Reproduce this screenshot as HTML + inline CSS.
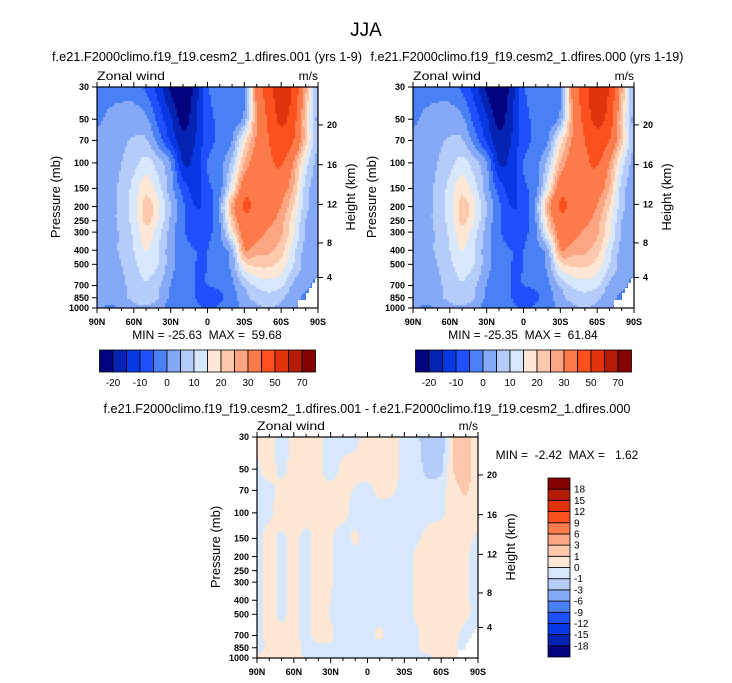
<!DOCTYPE html>
<html><head><meta charset="utf-8"><style>
body{margin:0;background:#fff;}
svg{display:block;font-family:"Liberation Sans",sans-serif;}
text{white-space:pre;}
.tk{font-size:9px;font-weight:bold;}
</style></head><body>
<svg id="fig" width="732" height="683" viewBox="0 0 732 683" xmlns="http://www.w3.org/2000/svg">
<rect width="732" height="683" fill="#fff"/>
<text x="366" y="36" font-size="19" text-anchor="middle">JJA</text>
<text x="207" y="61" font-size="13" text-anchor="middle" textLength="310" lengthAdjust="spacingAndGlyphs">f.e21.F2000climo.f19_f19.cesm2_1.dfires.001 (yrs 1-9)</text>
<text x="527" y="61" font-size="13" text-anchor="middle" textLength="313" lengthAdjust="spacingAndGlyphs">f.e21.F2000climo.f19_f19.cesm2_1.dfires.000 (yrs 1-19)</text>
<text x="367" y="413" font-size="13" text-anchor="middle" textLength="527" lengthAdjust="spacingAndGlyphs">f.e21.F2000climo.f19_f19.cesm2_1.dfires.001 - f.e21.F2000climo.f19_f19.cesm2_1.dfires.000</text>
<text x="207" y="339" font-size="12" text-anchor="middle">MIN = -25.63  MAX =  59.68</text>
<text x="523" y="339" font-size="12" text-anchor="middle">MIN = -25.35  MAX =  61.84</text>
<text x="567" y="459" font-size="12" text-anchor="middle">MIN =  -2.42  MAX =   1.62</text>
<g id="layer"></g>
</svg>
<script>
const lats=[90,80,70,60,50,40,30,20,10,0,-10,-20,-30,-40,-50,-60,-70,-80,-90];
const plevs=[30,50,70,100,150,200,250,300,400,500,700,850,1000];
const topLevels=[-20,-15,-10,-5,0,5,10,15,20,25,30,40,50,60,70];
const topLabels=["-20","-10","0","10","20","30","50","70"];
const diffLevels=[-18,-15,-12,-9,-6,-3,-1,0,1,3,6,9,12,15,18];
const xTickLabels=["90N","60N","30N","0","30S","60S","90S"];
const heightTicks=[4,8,12,16,20];
const colors=["#02037f","#0523b2","#0738e4","#1e50fd","#4a80f5","#85a9f7","#b5ccfa","#d7e8fd","#fee7d4","#fdc8ac","#fca583","#fd7a4b","#fd501f","#e1340c","#b51c05","#850000"];

const ctl1=[
[-3,-2,-1.5,-2,-6,-12,-21,-25,-18,-6,-3,-2,-0.5,32,45,57,48,26,4],
[-1,1,2,2.5,1,-7,-14,-22,-16,-7,-4,-2,2,30,42,52,44,22,3],
[1.5,2.5,4,5.5,5.5,-2,-11,-18,-15,-7,-4,0,17,31,40,46,40,22,4],
[2,3,5,8,12,7,0,-15,-13,-5,-2,7,25,35,38,41,30,13,3],
[2,4,6,12,18,12,2,-7,-12,-6,-2,15,36,37,36,34,25,8,2],
[2,3,7,12,22,16,5,-4,-10,-8,2,27,41,37,35,30,20,7,2],
[2,3,7,12,21,15,4,-4,-8,-7,0,22,37,36,32,27,17,5,1],
[2,3,6,11,18,12,3,-4,-7,-6,-1,17,34,33,29,26,16,5,1],
[2,3,6,10,15,10,2,-3,-5,-5,-2,4,29,27,26,22,12,3,1],
[2,3,5,9,12,10,2,-3,-5,-5,-3,2,18,21,21,18,10,3,1],
[2,3,4,7,9.5,6,0,-3,-5,-5,-4,-1,6,11,13,11,4,1,-1],
[2,3,4,6,7,5,-1,-4,-5,-7,-6,-2,3,7,8,6,2,-1,-2],
[1,-1,0.5,4,4.5,3,-3,-5,-4,-6,-4,-2,1,4,5,4,1,-2,-2]];
const ctl2=[
[-3,-2,-1.5,-2,-6,-12,-21,-25,-18,-6,-3,-2,-0.5,32,46,59,49,26,4],
[-1,1,2,2.5,1,-7,-14,-22,-16,-7,-4,-2,2,30,43,53,45,22,3],
[1.5,2.5,4,5.5,5.5,-2,-11,-18,-15,-7,-4,0,17,31,40,46,40,22,4],
[2,3,5,8,12,7,0,-15,-13,-5,-2,7,25,35,38,41,30,13,3],
[2,4,6,12,18,12,2,-7,-12,-6,-2,15,36,37,36,34,25,8,2],
[2,3,7,12,22,16,5,-4,-10,-8,2,27,41,37,35,30,20,7,2],
[2,3,7,12,21,15,4,-4,-8,-7,0,22,37,36,32,27,17,5,1],
[2,3,6,11,18,12,3,-4,-7,-6,-1,17,34,33,29,26,16,5,1],
[2,3,6,10,15,10,2,-3,-5,-5,-2,4,29,27,26,22,12,3,1],
[2,3,5,9,12,10,2,-3,-5,-5,-3,2,18,21,21,18,10,3,1],
[2,3,4,7,9.5,6,0,-3,-5,-5,-4,-1,6,11,13,11,4,1,-1],
[2,3,4,6,7,5,-1,-4,-5,-7,-6,-2,3,7,8,6,2,-1,-2],
[1,-1,0.5,4,4.5,3,-3,-5,-4,-6,-4,-2,1,4,5,4,1,-2,-2]];
const diffVals=[
[0.2,0.3,-0.3,0.3,0.3,0.2,-0.3,-0.4,-0.2,0.3,0.4,0.3,-0.3,-0.8,-1.6,-1.6,1.1,1.6,0.3],
[-0.1,0.3,-0.2,0.3,0.3,0.2,-0.3,0.2,0.3,0.3,0.4,0.3,-0.2,-0.6,-1.3,-1.2,1.0,1.5,0.3],
[-0.2,-0.2,0.3,0.3,0.3,0.3,0.2,0.3,-0.1,-0.2,0.2,0.1,-0.3,-0.4,-0.6,-0.3,0.6,1.1,0.3],
[-0.2,-0.1,0.3,0.2,0.3,0.3,0.2,0.2,-0.3,-0.4,-0.3,-0.3,-0.3,-0.3,-0.2,-0.1,0.3,0.5,0.3],
[-0.2,0.2,-0.1,0.2,-0.2,0.3,0.1,-0.3,0.1,-0.3,-0.3,-0.3,-0.3,-0.1,0.2,0.3,0.3,0.2,-0.1],
[-0.2,0.2,-0.1,0.2,-0.2,0.3,0.05,-0.3,-0.3,-0.3,-0.3,-0.3,-0.3,0.1,0.3,0.3,0.3,0.1,-0.2],
[-0.2,0.2,-0.1,0.2,-0.2,0.3,0.05,-0.3,-0.3,-0.3,-0.3,-0.3,-0.3,0.1,0.3,0.3,0.3,0.1,-0.2],
[-0.2,0.2,-0.1,0.2,-0.2,0.3,0.05,-0.3,-0.3,-0.3,-0.3,-0.3,-0.3,0.1,0.3,0.3,0.3,0.1,-0.2],
[-0.2,0.2,-0.1,0.2,-0.2,0.3,0.0,-0.3,-0.3,-0.3,-0.3,-0.3,-0.3,0.1,0.3,0.3,0.3,0.1,-0.2],
[-0.2,0.2,-0.1,0.2,-0.2,0.3,-0.05,-0.3,-0.3,-0.3,-0.3,-0.3,-0.3,0.1,0.3,0.3,0.3,0.1,-0.2],
[-0.2,0.2,0.2,0.2,-0.2,0.3,0.1,-0.3,-0.3,-0.2,0.1,-0.3,-0.3,-0.1,0.3,0.3,0.2,-0.2,-0.2],
[-0.3,0.2,0.3,0.3,-0.2,-0.2,-0.1,-0.3,-0.3,-0.2,-0.3,-0.3,-0.3,-0.05,0.3,0.3,0.1,-0.2,-0.2],
[0.2,0.3,0.3,0.3,-0.1,-0.1,-0.2,-0.2,-0.3,-0.3,-0.2,-0.3,-0.3,-0.3,-0.1,0.3,0.3,0.1,-0.2]];

const NS="http://www.w3.org/2000/svg";
const layer=document.getElementById('layer');
const PW=221,PH=221,LP0=Math.log(30),LPR=Math.log(1000/30);
function mk(tag,attrs,parent){const e=document.createElementNS(NS,tag);for(const k in attrs)e.setAttribute(k,attrs[k]);(parent||layer).appendChild(e);return e;}
function xOfLat(lat){return (90-lat)/180*PW;}
function yOfP(p){return (Math.log(p)-LP0)/LPR*PH;}
function yOfZ(z){const m=z*1000;const p=m<=11000?1013.25*Math.pow(1-2.25577e-5*m,5.25588):226.32*Math.exp(-(m-11000)/6341.6);return yOfP(p);}
function cr(p0,p1,p2,p3,t){return 0.5*(2*p1+(-p0+p2)*t+(2*p0-5*p1+4*p2-p3)*t*t+(-p0+3*p1-3*p2+p3)*t*t*t);}
function sample(v,x,y){
  const lat=90-x/PW*180;
  const nc=lats.length,nr=plevs.length;
  let fc=(lats[0]-lat)/(lats[0]-lats[1]);let c=Math.min(nc-2,Math.max(0,Math.floor(fc)));let tc=Math.max(0,Math.min(1,fc-c));
  const lp=LP0+y/PH*LPR;let r=0;while(r<nr-2&&Math.log(plevs[r+1])<lp)r++;
  const a=Math.log(plevs[r]),b=Math.log(plevs[r+1]);let tr=(lp-a)/(b-a);tr=Math.max(0,Math.min(1,tr));
  const cl=(i,n)=>Math.max(0,Math.min(n-1,i));
  const rowv=[];
  for(let dr=-1;dr<=2;dr++){const rr=cl(r+dr,nr);const row=v[rr];
    rowv.push(cr(row[cl(c-1,nc)],row[c],row[c+1],row[cl(c+2,nc)],tc));}
  return cr(rowv[0],rowv[1],rowv[2],rowv[3],tr);
}
function idx(val,levels){let k=0;while(k<levels.length&&val>=levels[k])k++;return k;}
function panel(x0,y0,vals,levels,name){
  const g=mk('g',{transform:'translate('+x0+','+y0+')'});
  
  
  const cs=2;
  for(let j=0;j<PH;j+=cs){
    let start=0,cur=-1;
    for(let i=0;;i+=cs){
      const done=i>=PW;
      const k=done?-2:idx(sample(vals,Math.min(PW,i+cs/2),Math.min(PH,j+cs/2)),levels);
      if(k!==cur){
        if(cur>=0){const r=mk('rect',{x:start,y:j,width:Math.min(PW,i)-start+0.3,height:Math.min(cs+0.3,PH-j),fill:colors[cur]},g);
          
          }
        start=i;cur=k;}
      if(done)break;
    }
  }
  const miss=mk('polygon',{points:'221,190 218,192 218,196 215,196 215,201 212,201 212,206 209,206 209,213 201,213 201,221 221,221',fill:'#fff'},g);
  
  
  const fr=mk('rect',{x:0,y:0,width:PW,height:PH,fill:'none',stroke:'#000','stroke-width':1.2},g);
  
  
  for(let lat=90;lat>=-90;lat-=10){
    const x=xOfLat(lat);const major=lat%30===0;const L=major?5:3;
    mk('line',{x1:x,y1:PH,x2:x,y2:PH+L,stroke:'#000','stroke-width':1},g);
    mk('line',{x1:x,y1:0,x2:x,y2:-L,stroke:'#000','stroke-width':1},g);
  }
  xTickLabels.forEach((t,i)=>{const e=mk('text',{x:xOfLat(90-30*i),y:PH+17,'text-anchor':'middle',class:'tk'},g);e.textContent=t;
    
    });
  plevs.forEach(p=>{const y=yOfP(p);mk('line',{x1:-5,y1:y,x2:0,y2:y,stroke:'#000','stroke-width':1},g);
    const e=mk('text',{x:-8,y:y+3.2,'text-anchor':'end',class:'tk'},g);e.textContent=p;
    
    });
  heightTicks.forEach(z=>{const y=yOfZ(z);mk('line',{x1:PW,y1:y,x2:PW+5,y2:y,stroke:'#000','stroke-width':1},g);
    const e=mk('text',{x:PW+9,y:y+3.2,class:'tk'},g);e.textContent=z;
    
    });
  let e=mk('text',{x:0,y:-7,'font-size':12,textLength:68,lengthAdjust:'spacingAndGlyphs'},g);e.textContent='Zonal wind';
  
  
  e=mk('text',{x:PW,y:-7,'font-size':12,'text-anchor':'end'},g);e.textContent='m/s';
  
  
  e=mk('text',{x:0,y:0,'font-size':13,'text-anchor':'middle',transform:'translate(-37,110) rotate(-90)'},g);e.textContent='Pressure (mb)';
  
  
  e=mk('text',{x:0,y:0,'font-size':13,'text-anchor':'middle',transform:'translate(258,110) rotate(-90)'},g);e.textContent='Height (km)';
  
  
}
function hbar(x0,y0,name){
  const g=mk('g',{transform:'translate('+x0+','+y0+')'});
  
  
  const bw=13.5;
  colors.forEach((c,i)=>{const r=mk('rect',{x:i*bw,y:0,width:bw,height:22,fill:c,stroke:'#000','stroke-width':0.8},g);
    
    });
  topLabels.forEach((t,i)=>{const e=mk('text',{x:(2*i+1)*bw,y:36,'font-size':10,'text-anchor':'middle'},g);e.textContent=t;
    
    });
}
function vbar(x0,y0,name){
  const g=mk('g',{transform:'translate('+x0+','+y0+')'});
  
  
  const bh=179/16;
  colors.forEach((c,i)=>{const r=mk('rect',{x:0,y:(15-i)*bh,width:22,height:bh,fill:c,stroke:'#000','stroke-width':0.8},g);
    
    });
  diffLevels.forEach((v,i)=>{const e=mk('text',{x:26,y:(15-i)*bh+3.5,'font-size':10},g);e.textContent=v;
    
    });
}
panel(97,87,ctl1,topLevels,'panel-001');
panel(413,87,ctl2,topLevels,'panel-000');
panel(257,437,diffVals,diffLevels,'panel-diff');
hbar(99.5,350,'colorbar-001');
hbar(415.5,350,'colorbar-000');
vbar(548,478,'colorbar-diff');
</script>
</body></html>
